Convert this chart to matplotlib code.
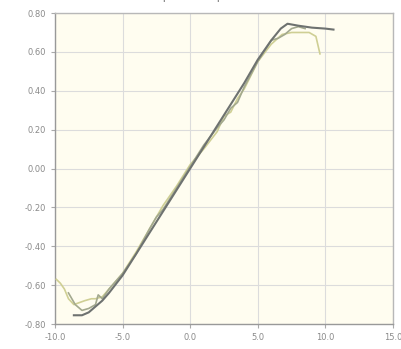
import matplotlib
matplotlib.use("Agg")
import matplotlib.pyplot as plt

# Series
x_dark = [-8.6, -8.0, -7.5, -7.0, -6.5, -6.0, -5.0, -4.0, -3.0, -2.0, -1.0, 0.0, 1.0, 2.0, 3.0, 4.0, 5.0, 6.0, 6.7, 7.2, 8.0, 9.0, 10.0, 10.6]
y_dark = [-0.755, -0.755, -0.74, -0.71, -0.68, -0.64, -0.55, -0.44, -0.33, -0.22, -0.11, 0.0, 0.11, 0.22, 0.33, 0.44, 0.56, 0.66, 0.72, 0.745, 0.735, 0.725, 0.72, 0.715]

x_mid = [-9.0, -8.5, -8.0, -7.5, -7.0, -6.8, -6.5, -6.0, -5.0, -4.0, -3.0, -2.5, -2.0, -1.0, 0.0, 1.0, 2.0, 2.5, 3.0, 3.5, 4.0, 5.0, 6.0, 6.5, 7.0, 7.5, 8.0, 8.5]
y_mid = [-0.64, -0.70, -0.73, -0.72, -0.70, -0.65, -0.67, -0.62, -0.54, -0.44, -0.31, -0.25, -0.21, -0.10, 0.01, 0.12, 0.21, 0.25, 0.31, 0.34, 0.42, 0.55, 0.66, 0.67, 0.69, 0.72, 0.73, 0.72]

x_light = [-9.9, -9.6, -9.3, -9.0, -8.6, -8.2, -7.8, -7.3, -7.0, -6.5, -6.0, -5.0, -4.0, -3.0, -2.0, -1.0, 0.0, 1.0, 2.0, 2.5, 3.0, 3.5, 4.0, 5.0, 6.0, 6.8, 7.5, 8.0, 8.8, 9.3, 9.6]
y_light = [-0.57, -0.59, -0.62, -0.67, -0.70, -0.69, -0.68, -0.67, -0.67, -0.66, -0.62, -0.54, -0.43, -0.31, -0.19, -0.09, 0.02, 0.10, 0.19, 0.27, 0.29, 0.36, 0.41, 0.55, 0.64, 0.69, 0.70, 0.70, 0.70, 0.68, 0.59]

x_ticks = [-10.0, -5.0, 0.0, 5.0, 10.0, 15.0]
x_tick_labels = ["-10.0", "-5.0", "0.0", "5.0", "10.0", "15.0"]
y_ticks = [-0.8, -0.6, -0.4, -0.2, 0.0, 0.2, 0.4, 0.6, 0.8]
y_tick_labels = ["-0.80", "-0.60", "-0.40", "-0.20", "0.00", "0.20", "0.40", "0.60", "0.80"]

fig = plt.figure(figsize=(4.01, 3.49), dpi=100, facecolor="white")
ax = fig.add_axes([0.137, 0.0716, 0.843, 0.891])
ax.set_facecolor("#fffdf0")

ax.plot(x_light, y_light, color="#cfcf94", lw=1.2, zorder=3)
ax.plot(x_mid, y_mid, color="#a3a98e", lw=1.2, zorder=4)
ax.plot(x_dark, y_dark, color="#6e7270", lw=1.5, zorder=5)

ax.set_xlim(-10, 15)
ax.set_ylim(-0.8, 0.8)
ax.set_xticks(x_ticks)
ax.set_xticklabels(x_tick_labels)
ax.set_yticks(y_ticks)
ax.set_yticklabels(y_tick_labels)
ax.grid(True, color="#dcdcdc", lw=0.8)
ax.set_axisbelow(True)
for s in ax.spines.values():
    s.set_color("#b8b8b8")
    s.set_linewidth(1.0)
ax.spines["left"].set_color("#999999")
ax.spines["bottom"].set_color("#999999")
ax.tick_params(axis="both", colors="#aaaaaa", labelcolor="#8a8a8a", labelsize=6, length=3, width=0.8)

fig.text(0.47, 1.012, "Output vs Input", ha="center", va="center", fontsize=9, color="#888888")

fig.savefig("out.png", dpi=100, facecolor="white")
